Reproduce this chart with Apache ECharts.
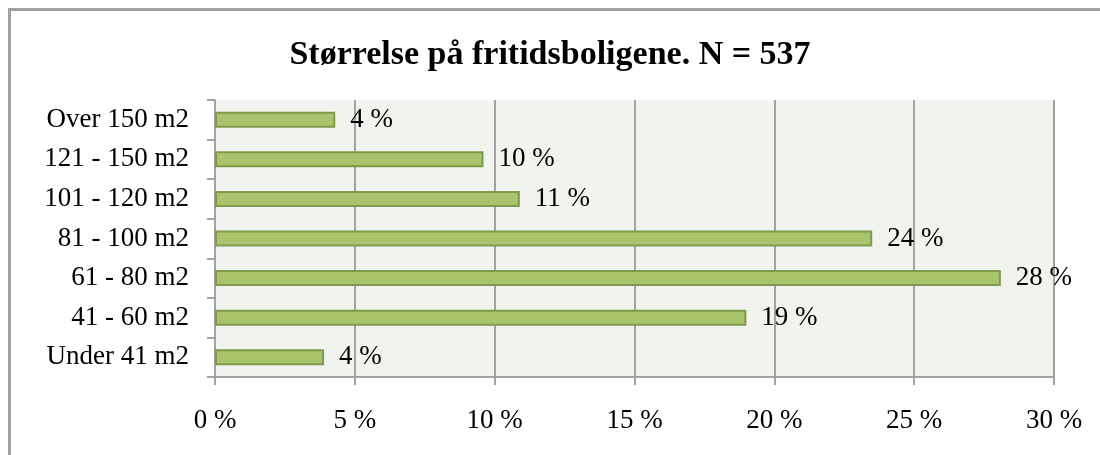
<!DOCTYPE html>
<html>
<head>
<meta charset="utf-8">
<script src="https://cdn.jsdelivr.net/npm/echarts@6/dist/echarts.min.js"></script>
<style>
  html, body { margin: 0; padding: 0; background: #fff; }
  #frame { position: absolute; left: 8px; top: 8px; width: 1200px; height: 600px;
           border-left: 3px solid #a0a0a0; border-top: 3px solid #a0a0a0; }
  #chart { position: absolute; left: 0; top: 0; width: 1100px; height: 455px; }
</style>
</head>
<body>
<div id="frame"></div>
<div id="chart"></div>
<script>
// kategorier nedenfra og opp
var sizes = ['Under 41 m2', '41 - 60 m2', '61 - 80 m2', '81 - 100 m2', '101 - 120 m2', '121 - 150 m2', 'Over 150 m2'];
var shares = [3.9, 19.0, 28.1, 23.5, 10.9, 9.6, 4.3];
var ticks = [0, 5, 10, 15, 20, 25, 30];

var font = '"Liberation Serif", "DejaVu Serif", serif';
var option = {
  animation: false,
  title: {
    text: 'Størrelse på fritidsboligene. N = 537',
    left: 'center',
    top: 33,
    textStyle: { fontFamily: font, fontWeight: 'bold', fontSize: 34, color: '#000' }
  },
  grid: { left: 215, right: 46, top: 100, bottom: 78, containLabel: false,
          show: true, backgroundColor: '#f1f3ee', borderWidth: 0 },
  xAxis: {
    type: 'value',
    min: ticks[0], max: ticks[ticks.length - 1], interval: 5,
    axisLine: { show: true, lineStyle: { color: '#a3a3a3', width: 2 } },
    axisTick: { show: true, length: 8, lineStyle: { color: '#a3a3a3', width: 2 } },
    splitLine: { show: true, lineStyle: { color: '#a3a3a3', width: 2 } },
    axisLabel: { formatter: '{value} %', fontFamily: font, fontSize: 27, color: '#000', margin: 30 }
  },
  yAxis: {
    type: 'category',
    data: sizes,
    axisLine: { show: true, lineStyle: { color: '#a3a3a3', width: 2 } },
    axisTick: { show: true, length: 8, lineStyle: { color: '#a3a3a3', width: 2 } },
    axisLabel: { fontFamily: font, fontSize: 27, color: '#000', margin: 26 }
  },
  series: [{
    type: 'bar',
    data: shares,
    barWidth: 16,
    itemStyle: { color: '#a9c46c', borderColor: '#7f9a4a', borderWidth: 2 },
    label: {
      show: true, position: 'right', distance: 15,
      fontFamily: font, fontSize: 27, color: '#000',
      formatter: function (p) { return Math.round(p.value) + ' %'; }
    }
  }]
};
var chart = echarts.init(document.getElementById('chart'));
chart.setOption(option);
</script>
</body>
</html>
